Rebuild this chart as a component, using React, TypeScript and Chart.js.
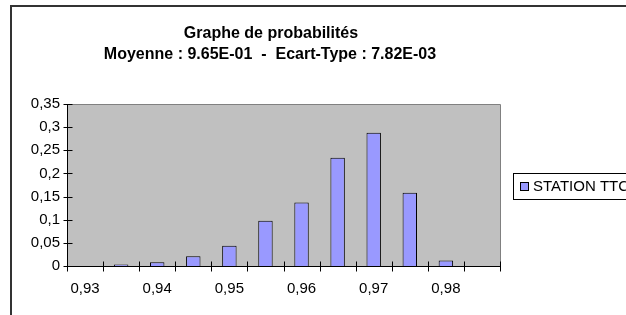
import React, { useEffect, useRef } from 'react';
import { Chart, registerables } from 'chart.js';

Chart.register(...registerables);

const categories = [0.93, 0.935, 0.94, 0.945, 0.95, 0.955, 0.96, 0.965, 0.97, 0.975, 0.98, 0.985];
const probabilities = [0, 0.003, 0.008, 0.021, 0.044, 0.098, 0.137, 0.234, 0.288, 0.158, 0.012, 0];
const xTickLabels = ['0,93', '', '0,94', '', '0,95', '', '0,96', '', '0,97', '', '0,98', ''];
const yMin = 0;
const yMax = 0.35;
const yStep = 0.05;
const seriesName = 'STATION TTC';
const titleLines = ['Graphe de probabilités', 'Moyenne : 9.65E-01  -  Ecart-Type : 7.82E-03'];

const FONT = '"Liberation Sans", Arial, Helvetica, sans-serif';
const BAR_FILL = '#9999FF';

const excelPlugin = {
  id: 'excelLook',
  beforeDraw(chart: any) {
    const { ctx, chartArea } = chart;
    ctx.save();
    ctx.fillStyle = '#C0C0C0';
    ctx.fillRect(chartArea.left, chartArea.top, chartArea.right - chartArea.left, chartArea.bottom - chartArea.top);
    ctx.restore();
  },
  afterDraw(chart: any) {
    const { ctx, chartArea } = chart;
    const xs = chart.scales.x;
    const ys = chart.scales.y;
    ctx.save();
    // plot border top/right (gray)
    ctx.strokeStyle = '#808080';
    ctx.lineWidth = 1;
    ctx.beginPath();
    ctx.moveTo(Math.round(chartArea.left) + 0.5, Math.round(chartArea.top) + 0.5);
    ctx.lineTo(Math.round(chartArea.right) + 0.5, Math.round(chartArea.top) + 0.5);
    ctx.lineTo(Math.round(chartArea.right) + 0.5, Math.round(chartArea.bottom));
    ctx.stroke();

    // axis lines + cross tick marks
    ctx.strokeStyle = '#000';
    const by = Math.round(chartArea.bottom) + 0.5;
    const lx = Math.round(chartArea.left) + 0.5;
    ctx.beginPath();
    ctx.moveTo(lx, Math.round(chartArea.top));
    ctx.lineTo(lx, by);
    ctx.lineTo(Math.round(chartArea.right) + 1, by);
    for (let i = 0; i <= categories.length; i++) {
      const px = Math.round(xs.getPixelForValue(i - 0.5)) + 0.5;
      ctx.moveTo(px, by - 5);
      ctx.lineTo(px, by + 5);
    }
    ys.ticks.forEach((t: any) => {
      const py = Math.round(ys.getPixelForValue(t.value)) + 0.5;
      ctx.moveTo(lx - 4, py);
      ctx.lineTo(lx + 5, py);
    });
    ctx.stroke();

    // outer frame
    ctx.strokeStyle = '#333';
    ctx.lineWidth = 2;
    ctx.beginPath();
    ctx.moveTo(11, 320);
    ctx.lineTo(11, 6);
    ctx.lineTo(640, 6);
    ctx.stroke();

    // title
    ctx.fillStyle = '#000';
    ctx.font = `bold 16px ${FONT}`;
    ctx.textAlign = 'center';
    ctx.textBaseline = 'alphabetic';
    ctx.fillText(titleLines[0], 271, 38);
    ctx.fillText(titleLines[1], 270, 59);

    // legend
    ctx.lineWidth = 1;
    ctx.strokeStyle = '#000';
    ctx.fillStyle = '#fff';
    ctx.fillRect(513.5, 173.5, 140, 26);
    ctx.strokeRect(513.5, 173.5, 140, 26);
    ctx.fillStyle = BAR_FILL;
    ctx.fillRect(520.5, 182.5, 8, 8);
    ctx.strokeRect(520.5, 182.5, 8, 8);
    ctx.fillStyle = '#000';
    ctx.font = `15px ${FONT}`;
    ctx.textAlign = 'left';
    ctx.textBaseline = 'middle';
    ctx.fillText(seriesName, 533, 187);
    ctx.restore();
  },
};

export default function App() {
  const canvasRef = useRef<HTMLCanvasElement | null>(null);

  useEffect(() => {
    if (!canvasRef.current) return;
    const chart = new Chart(canvasRef.current, {
      type: 'bar',
      data: {
        labels: categories.map((c) => String(c)),
        datasets: [
          {
            label: seriesName,
            data: probabilities,
            backgroundColor: BAR_FILL,
            borderColor: '#000',
            borderWidth: 1,
            barPercentage: 0.4,
            categoryPercentage: 1,
          },
        ],
      },
      options: {
        animation: false,
        responsive: false,
        devicePixelRatio: 1,
        layout: { padding: { top: 104, right: 126, left: 0, bottom: 0 } },
        plugins: {
          legend: { display: false },
          title: { display: false },
          tooltip: { enabled: false },
        },
        scales: {
          x: {
            offset: true,
            grid: { display: false, drawTicks: false, offset: true },
            border: { display: false },
            ticks: {
              autoSkip: false,
              maxRotation: 0,
              minRotation: 0,
              padding: 14,
              color: '#000',
              font: { family: FONT, size: 15 },
              callback: (_v: any, i: number) => xTickLabels[i],
            },
            afterFit: (s: any) => {
              s.height = 49;
            },
          },
          y: {
            min: yMin,
            max: yMax,
            grid: { display: false, drawTicks: false },
            border: { display: false },
            ticks: {
              stepSize: yStep,
              padding: 7,
              color: '#000',
              font: { family: FONT, size: 15 },
              callback: (v: any) => String(Math.round(Number(v) * 100) / 100).replace('.', ','),
            },
            afterFit: (s: any) => {
              s.width = 67;
            },
          },
        },
      },
      plugins: [excelPlugin],
    });
    return () => chart.destroy();
  }, []);

  return (
    <div style={{ position: 'absolute', left: 0, top: 0, width: 626, height: 315, overflow: 'hidden', background: '#fff' }}>
      <canvas ref={canvasRef} width={626} height={315} style={{ display: 'block' }} />
    </div>
  );
}
